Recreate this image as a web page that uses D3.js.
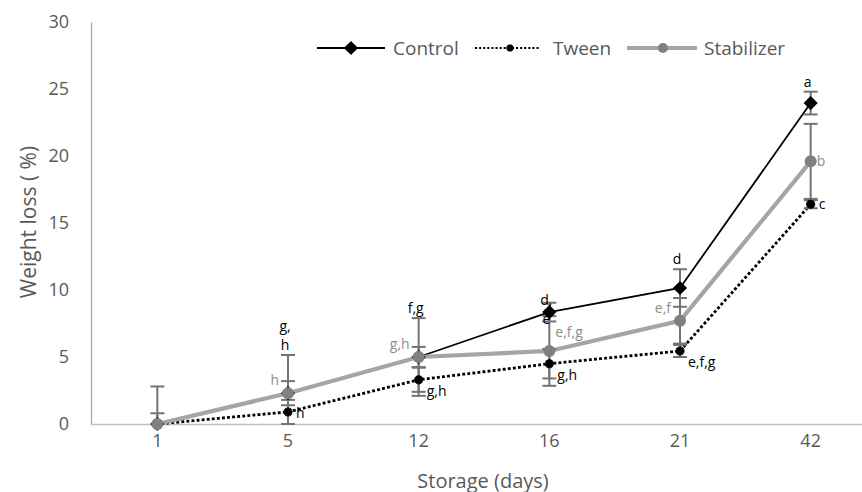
<!DOCTYPE html>
<html>
<head>
<meta charset="utf-8">
<script src="https://cdn.jsdelivr.net/npm/d3@7"></script>
<style>
  body { margin: 0; background: #fff; }
  text { font-family: "Open Sans", "Liberation Sans", sans-serif; }
</style>
</head>
<body>
<div id="chart"></div>
<script>
// storage days (categories)
var days = ["1", "5", "12", "16", "21", "42"];
var yTicks = [0, 5, 10, 15, 20, 25, 30];

// weight loss (%)
var control = [0, 2.3, 5.0, 8.35, 10.15, 23.95];
var tween = [0, 0.9, 3.3, 4.5, 5.45, 16.4];
var stabilizer = [0, 2.3, 5.0, 5.45, 7.7, 19.6];

// error bar half widths
var controlErr = [2.8, 2.85, 2.9, 0.7, 1.4, 0.85];
var tweenErr = [0.8, 0.9, 0.9, 1.1, 0.45, 0.3];
var stabilizerErr = [0, 0.9, 0.75, 2.6, 1.7, 2.8];

// significance letters
var controlLetters = ["", "g,|h", "f,g", "d,|e", "d", "a"];
var tweenLetters = ["", "h", "g,h", "g,h", "e,f,g", "c"];
var stabilizerLetters = ["", "h", "g,h", "e,f,g", "e,f", "b"];

var W = 862, H = 492;
var svg = d3.select("#chart").append("svg").attr("width", W).attr("height", H);

var x = d3.scaleBand().domain(days).range([92, 876]);
var y = d3.scaleLinear().domain([0, 30]).range([424, 22]);
var cx = function(i) { return x(days[i]) + x.bandwidth() / 2; };

// axes
var yAxis = svg.append("g").attr("transform", "translate(91,0)")
  .call(d3.axisLeft(y).tickValues(yTicks).tickSize(0).tickPadding(22));
yAxis.select(".domain").attr("stroke", "#a6a6a6").attr("stroke-width", 1.2);
yAxis.selectAll("text").attr("font-size", 18).attr("fill", "#595959");

var xAxis = svg.append("g").attr("transform", "translate(0,424)")
  .call(d3.axisBottom(x).tickSize(0).tickPadding(10));
xAxis.select(".domain").attr("d", "M91,0.5H862").attr("stroke", "#bfbfbf").attr("stroke-width", 1.5);
xAxis.selectAll("text").attr("font-size", 18).attr("fill", "#595959");

svg.append("text").attr("transform", "translate(36,222) rotate(-90)")
  .attr("text-anchor", "middle").attr("font-size", 21).attr("fill", "#595959")
  .text("Weight loss ( %)");
svg.append("text").attr("x", 483).attr("y", 488)
  .attr("text-anchor", "middle").attr("font-size", 20).attr("fill", "#595959")
  .text("Storage (days)");

var line = d3.line().x(function(d, i) { return cx(i); }).y(function(d) { return y(d); });

// lines
svg.append("path").datum(control).attr("d", line)
  .attr("fill", "none").attr("stroke", "#000").attr("stroke-width", 1.8);
svg.append("path").datum(tween).attr("d", line)
  .attr("fill", "none").attr("stroke", "#000").attr("stroke-width", 2.8)
  .attr("stroke-dasharray", "0.1 5").attr("stroke-linecap", "square");
svg.append("path").datum(stabilizer).attr("d", line)
  .attr("fill", "none").attr("stroke", "#a5a5a5").attr("stroke-width", 4.2);

// error bars
function errorBars(vals, errs) {
  var g = svg.append("g").attr("stroke", "#737373").attr("stroke-width", 2);
  vals.forEach(function(v, i) {
    if (!errs[i]) return;
    var top = Math.min(30, v + errs[i]), bot = Math.max(0, v - errs[i]);
    var px = cx(i);
    g.append("line").attr("x1", px).attr("x2", px).attr("y1", y(top)).attr("y2", y(bot));
    g.append("line").attr("x1", px - 7).attr("x2", px + 7).attr("y1", y(top)).attr("y2", y(top));
    if (v - errs[i] >= 0)
      g.append("line").attr("x1", px - 7).attr("x2", px + 7).attr("y1", y(bot)).attr("y2", y(bot));
  });
}
errorBars(control, controlErr);
errorBars(tween, tweenErr);
errorBars(stabilizer, stabilizerErr);

// marker shapes
var diamond = d3.symbol(d3.symbolSquare, 100)();
function tweenMark(g) {
  g.append("path").attr("d", d3.symbol(d3.symbolCross, 45)()).attr("fill", "#000");
  g.append("path").attr("d", d3.symbol(d3.symbolCross, 45)()).attr("fill", "#000")
    .attr("transform", "rotate(45)");
  g.append("circle").attr("r", 3.3).attr("fill", "#000");
}

// markers
svg.selectAll(".mc").data(control).join("path").attr("class", "mc")
  .attr("d", diamond)
  .attr("transform", function(d, i) { return "translate(" + cx(i) + "," + y(d) + ") rotate(45)"; })
  .attr("fill", "#000");
svg.selectAll(".mt").data(tween).join("g").attr("class", "mt")
  .attr("transform", function(d, i) { return "translate(" + cx(i) + "," + y(d) + ")"; })
  .each(function() { tweenMark(d3.select(this)); });
svg.selectAll(".ms").data(stabilizer).join("circle").attr("class", "ms")
  .attr("cx", function(d, i) { return cx(i); }).attr("cy", function(d) { return y(d); })
  .attr("r", 6).attr("fill", "#808080");

// letters
var lab = svg.append("g").attr("font-size", 14);
control.forEach(function(v, i) {
  if (!controlLetters[i]) return;
  var lines = controlLetters[i].split("|");
  // day 16 label sits on the point itself, the others sit above the bar
  var base = i === 3 ? y(v) + 12 : y(v + controlErr[i]) - 5;
  lines.forEach(function(t, k) {
    lab.append("text").attr("x", cx(i) - 3).attr("y", base - (lines.length - 1 - k) * 19)
      .attr("text-anchor", "middle").attr("fill", "#000").text(t);
  });
});
tween.forEach(function(v, i) {
  if (!tweenLetters[i]) return;
  var dy = i === 5 ? 5 : (i === 1 ? 6 : 16);
  lab.append("text").attr("x", cx(i) + 8).attr("y", y(v) + dy)
    .attr("fill", "#000").text(tweenLetters[i]);
});
var rightSide = { 3: true, 5: true };
stabilizer.forEach(function(v, i) {
  if (!stabilizerLetters[i]) return;
  var t = lab.append("text").attr("fill", "#8c8c8c").text(stabilizerLetters[i]);
  if (rightSide[i]) {
    t.attr("x", cx(i) + 6).attr("y", y(v) - (i === 5 ? -5 : 14));
  } else {
    t.attr("x", cx(i) - 9).attr("y", y(v) - 8).attr("text-anchor", "end");
  }
});

// legend
var legend = svg.append("g").attr("font-size", 19).attr("fill", "#595959");
var items = [
  { name: "Control", x: 317 },
  { name: "Tween", x: 476 },
  { name: "Stabilizer", x: 627 }
];
var ly = 48;
legend.append("line").attr("x1", items[0].x).attr("x2", items[0].x + 68).attr("y1", ly).attr("y2", ly)
  .attr("stroke", "#000").attr("stroke-width", 1.8);
legend.append("path").attr("d", diamond)
  .attr("transform", "translate(" + (items[0].x + 34) + "," + ly + ") rotate(45)").attr("fill", "#000");
legend.append("line").attr("x1", items[1].x).attr("x2", items[1].x + 64).attr("y1", ly).attr("y2", ly)
  .attr("stroke", "#000").attr("stroke-width", 2).attr("stroke-dasharray", "0.1 4")
  .attr("stroke-linecap", "square");
tweenMark(legend.append("g").attr("transform", "translate(" + (items[1].x + 34) + "," + ly + ") scale(0.8)"));
legend.append("line").attr("x1", items[2].x).attr("x2", items[2].x + 70).attr("y1", ly).attr("y2", ly)
  .attr("stroke", "#a5a5a5").attr("stroke-width", 4.2);
legend.append("circle").attr("cx", items[2].x + 36).attr("cy", ly).attr("r", 5).attr("fill", "#808080");
legend.selectAll("text").data(items).join("text")
  .attr("x", function(d, i) { return d.x + [76, 77, 77][i]; }).attr("y", ly + 7)
  .text(function(d) { return d.name; });
</script>
</body>
</html>
